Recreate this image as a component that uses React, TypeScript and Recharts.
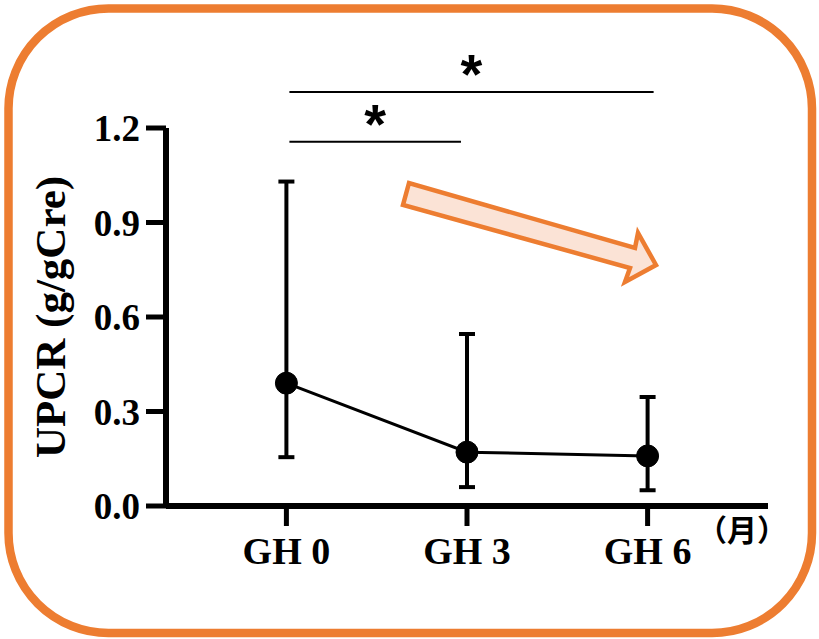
import React from "react";
import { ErrorBar, Line, LineChart, ReferenceLine, XAxis, YAxis } from "recharts";

// months since GH start
const months = [0, 3, 6];
const upcrMean = [0.39, 0.171, 0.159];
const upcrLow = [0.155, 0.06, 0.05];
const upcrHigh = [1.03, 0.546, 0.346];
const yTicks = [0, 0.3, 0.6, 0.9, 1.2];
const tickLabels = ["GH 0", "GH 3", "GH 6"];

// significance brackets (x in months, y in g/gCre)
const sigFrom = [0.05, 0.05];
const sigTo = [6.1, 2.9];
const sigLevel = [1.314, 1.156];
const sigMark = ["*", "*"];

const data = months.map((m, i) => ({
  month: m,
  mean: upcrMean[i],
  err: [upcrMean[i] - upcrLow[i], upcrHigh[i] - upcrMean[i]],
}));

const serif = "'Liberation Serif', 'Times New Roman', serif";
const orange = "#ED7D31";

const SigLabel = (props: any) => {
  const { viewBox, value } = props;
  const cx = viewBox.x + viewBox.width / 2;
  return (
    <text
      x={cx}
      y={viewBox.y + 1}
      textAnchor="middle"
      fontFamily="'Liberation Sans', Arial, sans-serif"
      fontWeight="bold"
      fontSize={56}
      fill="#000"
    >
      {value}
    </text>
  );
};

const YLabel = (props: any) => {
  const { viewBox } = props;
  const cx = viewBox.x + 50;
  const cy = viewBox.y + viewBox.height / 2;
  return (
    <text
      x={cx}
      y={cy}
      transform={`rotate(-90 ${cx} ${cy})`}
      textAnchor="middle"
      dominantBaseline="central"
      fontFamily={serif}
      fontWeight="bold"
      fontSize={43}
      fill="#000"
    >
      UPCR (g/gCre)
    </text>
  );
};

export default function App() {
  return (
    <div style={{ position: "absolute", left: 0, top: 0, width: 819, height: 639, background: "#fff" }}>
      <svg width={819} height={639} style={{ position: "absolute", left: 0, top: 0 }}>
        <rect x={8.5} y={8.5} width={803.5} height={624.5} rx={100} ry={100} fill="#fff" stroke={orange} strokeWidth={8.5} />
      </svg>
      <div style={{ position: "absolute", left: 0, top: 0 }}>
        <LineChart width={819} height={639} data={data} margin={{ top: 128, right: 51, bottom: 73, left: 0 }}>
          <XAxis
            dataKey="month"
            type="number"
            domain={[-2, 8]}
            ticks={months}
            tickFormatter={(m: number) => tickLabels[months.indexOf(m)]}
            axisLine={{ stroke: "#000", strokeWidth: 6 }}
            tickLine={{ stroke: "#000", strokeWidth: 5 }}
            tickSize={20}
            tickMargin={11}
            height={60}
            tick={{ fill: "#000", fontFamily: serif, fontWeight: "bold", fontSize: 38 }}
          />
          <YAxis
            domain={[0, 1.2]}
            ticks={yTicks}
            tickFormatter={(v: number) => v.toFixed(1)}
            axisLine={{ stroke: "#000", strokeWidth: 6 }}
            tickLine={{ stroke: "#000", strokeWidth: 5 }}
            tickSize={20}
            tickMargin={6}
            width={166}
            tick={{ fill: "#000", fontFamily: serif, fontWeight: "bold", fontSize: 37 }}
            label={<YLabel />}
          />
          {sigLevel.map((y, i) => (
            <ReferenceLine
              key={i}
              segment={[
                { x: sigFrom[i], y },
                { x: sigTo[i], y },
              ]}
              stroke="#000"
              strokeWidth={2}
              ifOverflow="visible"
              label={<SigLabel value={sigMark[i]} />}
            />
          ))}
          <Line
            type="linear"
            dataKey="mean"
            stroke="#000"
            strokeWidth={3}
            dot={{ r: 11, fill: "#000", stroke: "#000", strokeWidth: 1 }}
            activeDot={false}
            isAnimationActive={false}
          >
            <ErrorBar dataKey="err" direction="y" width={8} strokeWidth={4} stroke="#000" />
          </Line>
        </LineChart>
      </div>
      <svg width={819} height={639} style={{ position: "absolute", left: 0, top: 0, pointerEvents: "none" }}>
        <polygon
          points="409,183 403,205 630,268 625,282 656,265 638,233 635,248"
          fill="#FBE3D6"
          stroke={orange}
          strokeWidth={4.5}
          strokeLinejoin="miter"
        />
        <text
          x={742}
          y={528}
          textAnchor="middle"
          dominantBaseline="central"
          fontFamily="'Noto Sans CJK JP', sans-serif"
          fontWeight="bold"
          fontSize={30}
          fill="#000"
        >
          （月）
        </text>
      </svg>
    </div>
  );
}
